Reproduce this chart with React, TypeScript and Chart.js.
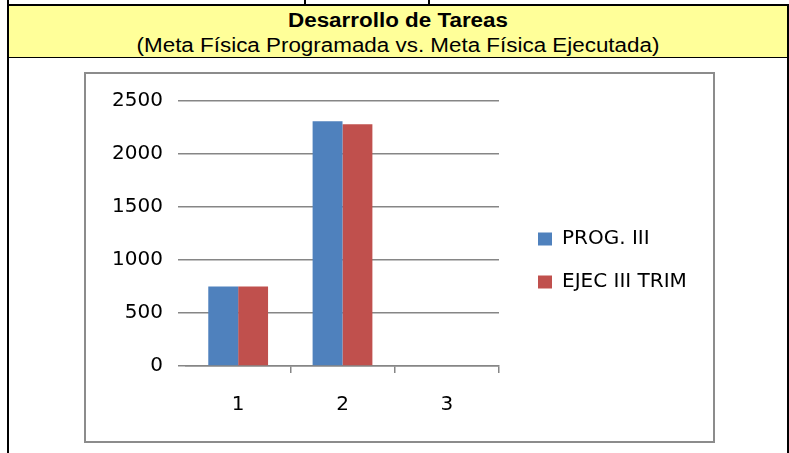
import React, { useEffect, useRef } from "react";
import { Chart, registerables } from "chart.js";

Chart.register(...registerables);

const categories = ["1", "2", "3"];
const progValues = [750, 2310, 0];
const ejecValues = [750, 2280, 0];
const seriesNames = ["PROG. III", "EJEC III TRIM"];
const yMin = 0;
const yMax = 2500;
const yStep = 500;

const titleText = "Desarrollo de Tareas";
const subtitleText = "(Meta Física Programada vs. Meta Física Ejecutada)";

const BLUE = "#4F81BD";
const RED = "#C0504D";
const GRID = "#868686";
const TEXT_FONT = "'DejaVu Sans', sans-serif";

export default function App() {
  const canvasRef = useRef<HTMLCanvasElement | null>(null);

  useEffect(() => {
    if (!canvasRef.current) return;
    const chart = new Chart(canvasRef.current, {
      type: "bar",
      data: {
        labels: categories,
        datasets: [
          {
            label: seriesNames[0],
            data: progValues,
            backgroundColor: BLUE,
            borderWidth: 0,
            barPercentage: 1,
            categoryPercentage: 0.573,
          },
          {
            label: seriesNames[1],
            data: ejecValues,
            backgroundColor: RED,
            borderWidth: 0,
            barPercentage: 1,
            categoryPercentage: 0.573,
          },
        ],
      },
      options: {
        responsive: false,
        animation: false,
        layout: { padding: { top: 27, bottom: 21, left: 0, right: 28 } },
        plugins: {
          tooltip: { enabled: false },
          title: { display: false },
          legend: {
            display: true,
            position: "right",
            maxWidth: 170,
            labels: {
              boxWidth: 14,
              boxHeight: 13,
              padding: 23,
              color: "#000",
              font: { family: TEXT_FONT, size: 20 },
            },
          },
        },
        scales: {
          x: {
            type: "category",
            offset: true,
            grid: {
              display: true,
              drawOnChartArea: false,
              drawTicks: true,
              tickLength: 7,
              offset: true,
              lineWidth: 1.5,
              color: (ctx: any) => (ctx.index === 0 ? "rgba(0,0,0,0)" : GRID),
            },
            border: { display: true, color: GRID, width: 1.5 },
            ticks: {
              color: "#000",
              padding: 20,
              font: { family: TEXT_FONT, size: 20 },
              maxRotation: 0,
            },
            afterFit: (scale: any) => {
              scale.height = 54;
            },
          },
          y: {
            type: "linear",
            position: "left",
            min: yMin,
            max: yMax,
            ticks: {
              stepSize: yStep,
              color: "#000",
              padding: 15,
              font: { family: TEXT_FONT, size: 20 },
              callback: (v: any) => String(v),
            },
            grid: {
              color: GRID,
              lineWidth: 1.5,
              drawTicks: true,
              tickLength: 8,
            },
            border: { display: false },
            afterFit: (scale: any) => {
              scale.width = 100;
            },
          },
          y2: {
            type: "linear",
            position: "right",
            display: true,
            grid: { display: false, drawTicks: false },
            border: { display: false },
            ticks: { display: false },
            afterFit: (scale: any) => {
              scale.width = 16;
            },
          },
        },
      },
    } as any);
    return () => chart.destroy();
  }, []);

  const titleStyle: React.CSSProperties = {
    position: "absolute",
    left: 9,
    width: 778,
    textAlign: "center",
    fontFamily: "'Liberation Sans', Arial, sans-serif",
    fontSize: 20,
    lineHeight: "20px",
    color: "#000",
    transform: "scaleX(1.12)",
    transformOrigin: "center",
    whiteSpace: "nowrap",
  };

  return (
    <div
      style={{
        position: "fixed",
        left: 0,
        top: 0,
        width: 789,
        height: 453,
        background: "#fff",
        overflow: "hidden",
      }}
    >
      <div style={{ position: "absolute", left: 304, top: 0, width: 2, height: 5, background: "#000" }} />
      <div style={{ position: "absolute", left: 428, top: 0, width: 2, height: 5, background: "#000" }} />
      <div style={{ position: "absolute", left: 9, top: 6, width: 778, height: 51, background: "#FFFF99" }} />
      <div style={{ position: "absolute", left: 7, top: 4, width: 782, height: 2, background: "#000" }} />
      <div style={{ position: "absolute", left: 7, top: 57, width: 782, height: 1, background: "#000" }} />
      <div style={{ position: "absolute", left: 7, top: 0, width: 2, height: 453, background: "#000" }} />
      <div style={{ position: "absolute", left: 787, top: 4, width: 2, height: 449, background: "#000" }} />

      <div style={{ ...titleStyle, top: 10, fontWeight: "bold" }}>{titleText}</div>
      <div style={{ ...titleStyle, top: 35 }}>{subtitleText}</div>

      <div
        style={{
          position: "absolute",
          left: 84,
          top: 72,
          width: 627,
          height: 367,
          border: "2px solid #8c8c8c",
          background: "#fff",
        }}
      >
        <canvas ref={canvasRef} width={627} height={367} style={{ display: "block", width: 627, height: 367 }} />
      </div>
    </div>
  );
}
